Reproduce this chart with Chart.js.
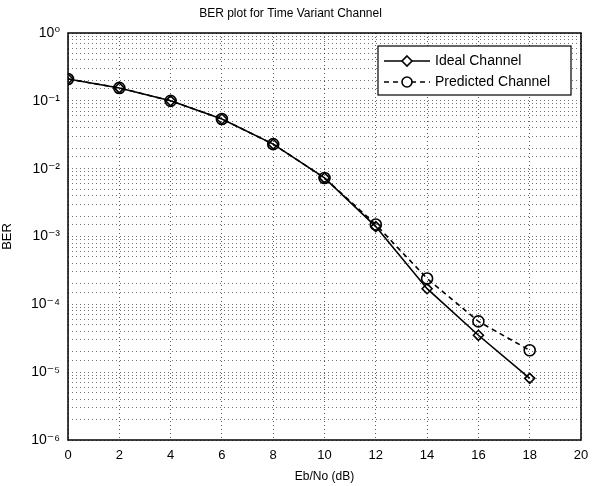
<!DOCTYPE html>
<html>
<head>
<meta charset="utf-8">
<script src="https://cdn.jsdelivr.net/npm/chart.js@4/dist/chart.umd.min.js"></script>
<style>
  body { margin: 0; background: #fff; }
  #wrap { width: 598px; height: 486px; }
</style>
</head>
<body>
<div id="wrap"><canvas id="berChart"></canvas></div>
<script>
// values
const ebNo = [0, 2, 4, 6, 8, 10, 12, 14, 16, 18];
const idealBer = [0.21, 0.155, 0.1, 0.054, 0.023, 0.0073, 0.0014, 0.00017, 0.000035, 0.0000081];
const predictedBer = [0.21, 0.155, 0.1, 0.054, 0.023, 0.0073, 0.0015, 0.00024, 0.000056, 0.000021];
const seriesNames = ['Ideal Channel', 'Predicted Channel'];

const FONT = '"Liberation Sans", Arial, "DejaVu Sans", sans-serif';
const sup = { '0': '\u2070', '1': '\u00b9', '2': '\u00b2', '3': '\u00b3', '4': '\u2074', '5': '\u2075', '6': '\u2076', '-': '\u207b' };

function toPoints(ys) {
  return ebNo.map((x, i) => ({ x: x, y: ys[i] }));
}

// box round the plot area, like matlab's axes
const boxPlugin = {
  id: 'box',
  afterDatasetsDraw(chart) {
    const a = chart.chartArea, c = chart.ctx;
    c.save();
    c.strokeStyle = '#000';
    c.lineWidth = 1.5;
    c.strokeRect(a.left, a.top, a.right - a.left, a.bottom - a.top);
    c.restore();
  }
};

// legend sits inside the axes, top right
const legendBox = {
  id: 'legendBox',
  afterDraw(chart) {
    const c = chart.ctx;
    const x0 = 378, y0 = 46, w = 193, h = 49;
    c.save();
    c.fillStyle = '#fff';
    c.fillRect(x0, y0, w, h);
    c.strokeStyle = '#000';
    c.lineWidth = 1.2;
    c.strokeRect(x0, y0, w, h);
    c.font = '14px ' + FONT;
    c.textBaseline = 'middle';
    c.fillStyle = '#000';
    chart.data.datasets.forEach((ds, i) => {
      const y = y0 + 15 + i * 21;
      c.strokeStyle = '#000';
      c.lineWidth = 1.6;
      c.setLineDash(ds.borderDash || []);
      c.beginPath();
      c.moveTo(x0 + 6, y);
      c.lineTo(x0 + 52, y);
      c.stroke();
      c.setLineDash([]);
      c.beginPath();
      if (ds.pointStyle === 'rectRot') {
        c.moveTo(x0 + 29, y - 5); c.lineTo(x0 + 34, y); c.lineTo(x0 + 29, y + 5); c.lineTo(x0 + 24, y); c.closePath();
      } else {
        c.arc(x0 + 29, y, 5, 0, Math.PI * 2);
      }
      c.fillStyle = '#fff';
      c.fill();
      c.stroke();
      c.fillStyle = '#000';
      c.fillText(ds.label, x0 + 57, y);
    });
    c.restore();
  }
};

new Chart(document.getElementById('berChart'), {
  type: 'line',
  data: {
    datasets: [{
      label: seriesNames[0],
      data: toPoints(idealBer),
      borderColor: '#000',
      borderWidth: 1.6,
      pointStyle: 'rectRot',
      pointRadius: 5,
      pointBorderWidth: 1.6,
      pointBackgroundColor: 'rgba(0,0,0,0)',
      pointBorderColor: '#000',
      tension: 0
    }, {
      label: seriesNames[1],
      data: toPoints(predictedBer),
      borderColor: '#000',
      borderWidth: 1.6,
      borderDash: [5, 4],
      pointStyle: 'circle',
      pointRadius: 5.5,
      pointBorderWidth: 1.6,
      pointBackgroundColor: 'rgba(0,0,0,0)',
      pointBorderColor: '#000',
      tension: 0
    }]
  },
  options: {
    responsive: true,
    maintainAspectRatio: false,
    animation: false,
    layout: { padding: { left: 0, right: 17, top: 0, bottom: 0 } },
    plugins: {
      legend: { display: false },
      tooltip: { enabled: false },
      title: {
        display: true,
        text: 'BER plot for Time Variant Channel',
        color: '#000',
        font: { family: FONT, size: 12, weight: 'normal' },
        padding: { top: 6, bottom: 12.6 }
      }
    },
    scales: {
      x: {
        type: 'linear',
        min: 0,
        max: 20,
        ticks: {
          stepSize: 2,
          color: '#000',
          padding: 8,
          font: { family: FONT, size: 13 }
        },
        grid: {
          color: 'rgba(0,0,0,0.65)',
          tickLength: 0,
          drawTicks: false
        },
        border: { display: false, dash: [1, 3] },
        title: {
          display: true,
          text: 'Eb/No (dB)',
          color: '#000',
          font: { family: FONT, size: 12 },
          padding: { top: 2, bottom: 2 }
        },
        afterFit(scale) { scale.height = 46; }
      },
      y: {
        type: 'logarithmic',
        min: 1e-6,
        max: 1,
        ticks: {
          autoSkip: false,
          color: '#000',
          padding: 8,
          font: { family: FONT, size: 14 },
          callback(v) {
            const e = Math.log10(v);
            if (Math.abs(e - Math.round(e)) > 1e-9) return '';
            return '10' + String(Math.round(e)).split('').map(ch => sup[ch]).join('');
          }
        },
        grid: {
          color: 'rgba(0,0,0,0.55)',
          drawTicks: false,
          tickLength: 0
        },
        border: { display: false, dash: [1, 3] },
        title: {
          display: true,
          text: 'BER',
          color: '#000',
          font: { family: FONT, size: 13 },
          padding: { top: 0, bottom: 4 }
        },
        afterFit(scale) { scale.width = 68; }
      }
    }
  },
  plugins: [boxPlugin, legendBox]
});
</script>
</body>
</html>
